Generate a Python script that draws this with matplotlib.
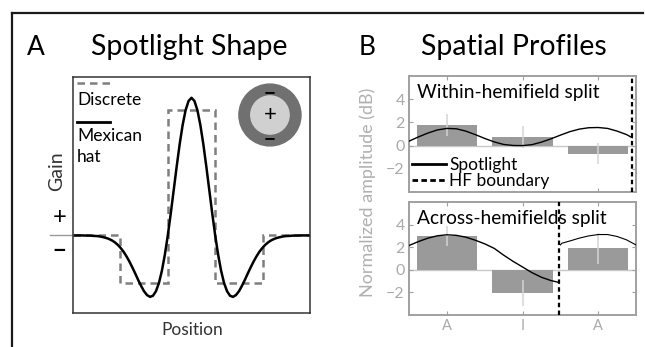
import matplotlib
matplotlib.use("Agg")
import matplotlib.pyplot as plt
from matplotlib.lines import Line2D
from matplotlib.patches import Circle
import numpy as np

plt.rcParams["font.family"] = ["Lato", "DejaVu Sans"]

W, H = 645, 347

# ---- Panel A: spotlight shape (right half, mirrored about 0) ----
half_x = np.arange(0, 5.001, 0.125)
hat_half = [1.1, 1.074, 1.0, 0.881, 0.728, 0.551, 0.363, 0.176, 0.0, -0.155,
            -0.283, -0.381, -0.446, -0.482, -0.491, -0.477, -0.447, -0.404, -0.356, -0.304,
            -0.254, -0.207, -0.165, -0.128, -0.098, -0.073, -0.053, -0.038, -0.027, -0.019,
            -0.013, -0.008, -0.005, -0.004, -0.002, -0.001, -0.001, 0.0, 0.0, 0.0, 0.0]
pos_x = np.concatenate([-half_x[::-1], half_x[1:]])
mexican_hat = hat_half[::-1] + hat_half[1:]
disc_edges = [-5, -3, -1, 1, 3, 5]
disc_gain = [0, -0.38, 1.0, -0.38, 0]

# ---- Panel B: spatial profiles ----
locations = [1, 2, 3]
loc_labels = ["A", "I", "A"]
within_vals = [1.75, 0.72, -0.70]
within_err = [0.95, 0.95, 0.90]
across_vals = [3.0, -2.05, 1.9]
across_err = [0.90, 1.15, 1.35]

within_x = [0.5, 0.625, 0.75, 0.875, 1.0, 1.125, 1.25, 1.375, 1.5, 1.625, 1.75, 1.875,
            2.0, 2.125, 2.25, 2.375, 2.5, 2.625, 2.75, 2.875, 3.0, 3.125, 3.25, 3.375, 3.45]
within_fit = [0.38, 0.75, 1.08, 1.35, 1.48, 1.45, 1.25, 0.95, 0.62, 0.32, 0.10, 0.01,
              0.0, 0.08, 0.30, 0.58, 0.90, 1.20, 1.42, 1.54, 1.56, 1.48, 1.25, 0.95, 0.68]
within_hf = 3.45

across_x1 = [0.5, 0.625, 0.75, 0.875, 1.0, 1.125, 1.25, 1.375, 1.5, 1.625, 1.75, 1.875,
             2.0, 2.125, 2.25, 2.375, 2.47]
across_fit1 = [2.15, 2.5, 2.8, 3.01, 3.1, 3.05, 2.89, 2.62, 2.3, 1.9, 1.3, 0.75,
               0.25, -0.25, -0.66, -0.95, -1.1]
across_x2 = [2.5, 2.52, 2.625, 2.75, 2.875, 3.0, 3.125, 3.25, 3.375, 3.5]
across_fit2 = [2.2, 2.35, 2.55, 2.8, 3.0, 3.12, 3.12, 2.95, 2.65, 2.2]
across_hf = 2.48

fig = plt.figure(figsize=(W / 100, H / 100), dpi=100)


def fx(px):
    return px / W


def fy(py):
    return 1 - py / H


# outer frame lines
fig.add_artist(Line2D([fx(12), fx(643)], [fy(13), fy(13)], color="#1a1a1a", lw=1.6))
fig.add_artist(Line2D([fx(12), fx(12)], [fy(13), 0], color="#1a1a1a", lw=1.6))

# headings
fig.text(fx(27), fy(55), "A", fontsize=19, va="baseline", ha="left")
fig.text(fx(91), fy(55), "Spotlight Shape", fontsize=20.5, va="baseline", ha="left")
fig.text(fx(359), fy(55), "B", fontsize=19, va="baseline", ha="left")
fig.text(fx(421), fy(55), "Spatial Profiles", fontsize=20.5, va="baseline", ha="left")

# ---- panel A ----
axA = fig.add_axes([fx(73), fy(313), 237 / W, 236 / H])
axA.stairs(disc_gain, disc_edges, color="#7f7f7f", lw=1.8, linestyle=(0, (3, 2)), baseline=None)
axA.plot(pos_x, mexican_hat, color="black", lw=1.8)
axA.plot([-5.95, -5], [0, 0], color="#9a9a9a", lw=1.0, clip_on=False)
axA.set_xlim(-5, 5)
axA.set_ylim(-0.62, 1.266)
axA.set_xticks([])
axA.set_yticks([])
for sp in axA.spines.values():
    sp.set_color("#333333")
    sp.set_linewidth(1.1)

# hand-drawn legend (handles above labels)
axA.plot([0.017, 0.156], [0.975, 0.975], transform=axA.transAxes, color="#7f7f7f",
         lw=1.8, linestyle=(0, (3, 2)), clip_on=False)
axA.text(0.017, 0.903, "Discrete", transform=axA.transAxes, fontsize=12.5, va="center")
axA.plot([0.017, 0.156], [0.809, 0.809], transform=axA.transAxes, color="black", lw=2)
axA.text(0.017, 0.75, "Mexican", transform=axA.transAxes, fontsize=12.5, va="center")
axA.text(0.017, 0.661, "hat", transform=axA.transAxes, fontsize=12.5, va="center")

# centre-surround icon
axA.add_patch(Circle((0.831, 0.839), 0.131, transform=axA.transAxes, color="#707070"))
axA.add_patch(Circle((0.831, 0.839), 0.081, transform=axA.transAxes, color="#d0d0d0"))
axA.text(0.831, 0.839, "+", transform=axA.transAxes, ha="center", va="center", fontsize=16)
axA.text(0.831, 0.93, "\u2212", transform=axA.transAxes, ha="center", va="center",
         fontsize=15, fontweight="bold")
axA.text(0.831, 0.735, "\u2212", transform=axA.transAxes, ha="center", va="center",
         fontsize=15, fontweight="bold")

fig.text(fx(57), fy(171), "Gain", rotation=90, fontsize=14, ha="center", va="center",
         color="#333333")
fig.text(fx(60), fy(218), "+", fontsize=17, ha="center", va="center")
fig.text(fx(59), fy(250), "\u2212", fontsize=17, ha="center", va="center", fontweight="bold")
fig.text(fx(192), fy(335), "Position", fontsize=12.5, ha="center", va="baseline",
         color="#333333")

# ---- panel B ----
GRID = "#a0a0a0"
LABEL = "#aaaaaa"


def style_b(ax, show_x):
    ax.set_xlim(0.5, 3.5)
    ax.set_ylim(-4, 6)
    ax.set_yticks([-2, 0, 2, 4])
    ax.set_xticks(locations)
    ax.set_xticklabels(loc_labels if show_x else [])
    ax.tick_params(direction="in", length=3, width=0.8, color=GRID, labelcolor=LABEL,
                   labelsize=11.5, top=True, right=True, pad=3)
    ax.tick_params(axis="x", labelsize=10.5)
    for sp in ax.spines.values():
        sp.set_color(GRID)
        sp.set_linewidth(1.4)
    ax.axhline(0, color="#c8c8c8", lw=1.0, zorder=1)


axT = fig.add_axes([fx(409), fy(192), 227 / W, 116 / H])
axT.bar(locations, within_vals, width=0.8, color="#9a9a9a", zorder=2)
axT.errorbar(locations, within_vals, yerr=within_err, fmt="none", ecolor="#d4d4d4",
             elinewidth=1.1, capsize=0, zorder=3)
axT.plot(within_x, within_fit, color="black", lw=1.0, zorder=4)
axT.axvline(within_hf, color="black", lw=1.6, linestyle=(0, (2, 1.5)), zorder=5)
style_b(axT, False)
axT.text(0.035, 0.93, "Within-hemifield split", transform=axT.transAxes, fontsize=13.8,
         va="top", ha="left")
handles = [Line2D([], [], color="black", lw=2.0),
           Line2D([], [], color="black", lw=2.0, linestyle=(0, (2, 1.2)))]
leg = axT.legend(handles, ["Spotlight", "HF boundary"], loc="lower left", frameon=True,
                 fontsize=12.5, handlelength=2.0, handletextpad=0.15, borderaxespad=0.05,
                 labelspacing=0.0, borderpad=0.1, fancybox=False)
leg.get_frame().set_edgecolor("none")
leg.get_frame().set_facecolor("white")
leg.get_frame().set_alpha(1)

axB = fig.add_axes([fx(409), fy(315), 227 / W, 113 / H])
axB.bar(locations, across_vals, width=0.8, color="#9a9a9a", zorder=2)
axB.errorbar(locations, across_vals, yerr=across_err, fmt="none", ecolor="#d4d4d4",
             elinewidth=1.1, capsize=0, zorder=3)
axB.plot(across_x1, across_fit1, color="black", lw=1.0, zorder=4)
axB.plot(across_x2, across_fit2, color="black", lw=0.8, zorder=4)
axB.axvline(across_hf, color="black", lw=1.6, linestyle=(0, (2, 1.5)), zorder=5)
style_b(axB, True)
axB.text(0.035, 0.93, "Across-hemifields split", transform=axB.transAxes, fontsize=13.8,
         va="top", ha="left")

fig.text(fx(368), fy(192), "Normalized amplitude (dB)", rotation=90, fontsize=13,
         ha="center", va="center", color="#b0b0b0")

fig.savefig("out.png", dpi=100, facecolor="white")
